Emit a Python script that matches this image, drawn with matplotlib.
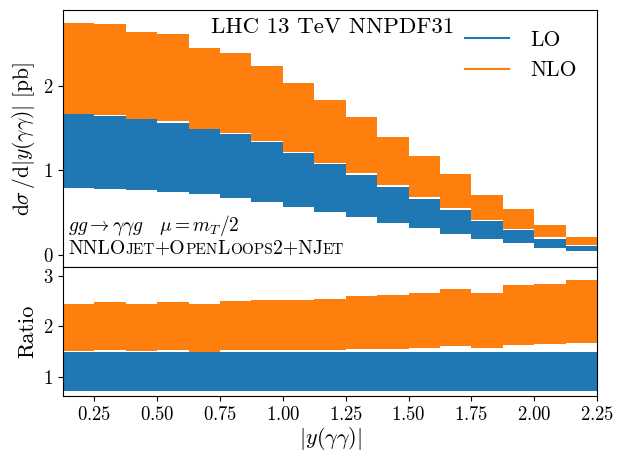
import numpy as np
import matplotlib
matplotlib.use("Agg")
import matplotlib.pyplot as plt
from matplotlib.offsetbox import TextArea, HPacker, AnchoredOffsetbox

plt.rcParams['font.family'] = 'serif'
plt.rcParams['font.serif'] = ['cmr10']
plt.rcParams['mathtext.fontset'] = 'cm'
plt.rcParams['axes.formatter.use_mathtext'] = True

# bin edges in |y(gamma gamma)|
edges = np.arange(0.125, 2.25 + 1e-9, 0.125)

# top panel: scale-variation bands [pb]
lo_low = [0.786, 0.778, 0.763, 0.739, 0.715, 0.668, 0.620, 0.569, 0.509,
          0.450, 0.371, 0.312, 0.244, 0.183, 0.134, 0.082, 0.046]
lo_high = [1.668, 1.648, 1.630, 1.565, 1.494, 1.427, 1.332, 1.202, 1.075,
           0.945, 0.806, 0.663, 0.525, 0.399, 0.290, 0.185, 0.106]
nlo_low = [1.670, 1.656, 1.605, 1.585, 1.494, 1.439, 1.347, 1.221, 1.090,
           0.968, 0.826, 0.687, 0.557, 0.410, 0.308, 0.205, 0.114]
nlo_high = [2.744, 2.739, 2.640, 2.613, 2.451, 2.388, 2.237, 2.032, 1.834,
            1.636, 1.395, 1.170, 0.952, 0.707, 0.537, 0.351, 0.205]

# bottom panel: ratio bands
r_lo_low = [0.72] * 17
r_lo_high = [1.49] * 17
r_nlo_low = [1.51, 1.52, 1.51, 1.52, 1.49, 1.52, 1.53, 1.52, 1.53,
             1.55, 1.55, 1.57, 1.61, 1.57, 1.63, 1.64, 1.67]
r_nlo_high = [2.44, 2.47, 2.43, 2.47, 2.43, 2.49, 2.52, 2.51, 2.53,
              2.60, 2.62, 2.66, 2.73, 2.66, 2.82, 2.84, 2.92]

C_LO = '#1f77b4'
C_NLO = '#ff7f0e'

def ext(a):
    a = np.asarray(a, float)
    return np.append(a, a[-1])

fig = plt.figure(figsize=(6.18, 4.53), dpi=100)
W, H = 618, 453
ax1 = fig.add_axes([63 / W, 1 - 267 / H, (597 - 63) / W, (267 - 10) / H])
ax2 = fig.add_axes([63 / W, 1 - 396 / H, (597 - 63) / W, (396 - 267) / H], sharex=ax1)

for ax, lo_l, lo_h, nl_l, nl_h in [(ax1, lo_low, lo_high, nlo_low, nlo_high),
                                   (ax2, r_lo_low, r_lo_high, r_nlo_low, r_nlo_high)]:
    ax.fill_between(edges, ext(lo_l), ext(lo_h), step='post', color=C_LO, lw=0)
    ax.fill_between(edges, ext(nl_l), ext(nl_h), step='post', color=C_NLO, lw=0)

ax1.plot([], [], color=C_LO, label='LO')
ax1.plot([], [], color=C_NLO, label='NLO')
ax1.legend(loc='upper right', frameon=False, fontsize=15.5, handlelength=2.0,
           handletextpad=1.0, borderaxespad=0.55, labelspacing=0.5)

ax1.set_xlim(0.125, 2.25)
ax1.set_ylim(-0.147, 2.90)
ax2.set_ylim(0.614, 3.174)
ax1.set_yticks([0, 1, 2])
ax2.set_yticks([1, 2, 3])
ax2.set_xticks([0.25, 0.5, 0.75, 1.0, 1.25, 1.5, 1.75, 2.0, 2.25])
ax1.tick_params(axis='x', bottom=False, labelbottom=False)
for ax in (ax1, ax2):
    ax.tick_params(labelsize=13.5)

ax1.set_ylabel(r'$\mathrm{d}\sigma\,/\mathrm{d}|y(\gamma\gamma)|$ [pb]', fontsize=15.5)
ax2.set_ylabel('Ratio', fontsize=16)
ax2.set_xlabel(r'$|y(\gamma\gamma)|$', fontsize=16, labelpad=1)
fig.align_ylabels([ax1, ax2])

ax1.text(0.505, 0.972, 'LHC 13 TeV NNPDF31', transform=ax1.transAxes,
         ha='center', va='top', fontsize=16.5)
ax1.text(0.01, 0.14, r'$gg \to \gamma\gamma g \quad \mu = m_T/2$',
         transform=ax1.transAxes, ha='left', va='baseline', fontsize=14)

big, small = 14.2, 11
pieces = [('NNLO', big), ('JET', small), ('+O', big), ('PEN', small),
          ('L', big), ('OOPS', small), ('2+NJ', big), ('ET', small)]
areas = [TextArea(t, textprops=dict(fontsize=s, family='serif')) for t, s in pieces]
box = HPacker(children=areas, align='baseline', pad=0, sep=0)
anch = AnchoredOffsetbox(loc='lower left', child=box, pad=0, borderpad=0,
                         frameon=False, bbox_to_anchor=(0.01, 0.035),
                         bbox_transform=ax1.transAxes)
ax1.add_artist(anch)

fig.savefig('out.png', dpi=100)
